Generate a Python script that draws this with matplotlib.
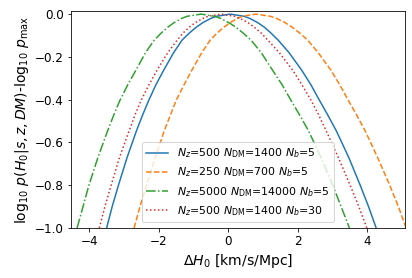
import matplotlib
matplotlib.use("Agg")
import matplotlib.pyplot as plt

# Readings of each curve: y levels (log10 p - log10 pmax) and the delta H0 where
# each curve crosses them, left branch -> peak -> right branch
levels = [-1.0, -0.9, -0.8, -0.67, -0.545, -0.47, -0.404, -0.33, -0.263, -0.18,
          -0.122, -0.09, -0.061, -0.04, -0.02, -0.01, 0.0,
          -0.01, -0.02, -0.04, -0.061, -0.09, -0.122, -0.18, -0.263, -0.33,
          -0.404, -0.47, -0.545, -0.67, -0.8, -0.9, -1.0]

x_blue = [-3.50, -3.34, -3.16, -2.91, -2.64, -2.46, -2.29, -2.08, -1.86, -1.57,
          -1.33, -1.13, -0.92, -0.73, -0.50, -0.335, 0.06,
          0.455, 0.62, 0.85, 1.04, 1.24, 1.44, 1.75, 2.12, 2.38,
          2.63, 2.86, 3.11, 3.47, 3.80, 4.04, 4.26]
x_orange = [-2.71, -2.54, -2.35, -2.10, -1.84, -1.66, -1.50, -1.27, -1.05, -0.76,
            -0.52, -0.33, -0.12, 0.05, 0.27, 0.41, 0.80,
            1.21, 1.39, 1.64, 1.84, 2.07, 2.29, 2.59, 2.96, 3.21,
            3.46, 3.69, 3.94, 4.30, 4.65, 4.90, 5.12]
x_green = [-4.35, -4.18, -4.01, -3.75, -3.47, -3.29, -3.12, -2.89, -2.66, -2.38,
           -2.13, -1.94, -1.74, -1.56, -1.34, -1.18, -0.78,
           -0.39, -0.22, 0.02, 0.22, 0.44, 0.66, 0.95, 1.28, 1.55,
           1.81, 2.05, 2.31, 2.67, 3.01, 3.25, 3.49]
x_red = [-3.71, -3.55, -3.37, -3.13, -2.85, -2.68, -2.51, -2.28, -2.05, -1.74,
         -1.47, -1.31, -1.12, -0.95, -0.73, -0.58, -0.20,
         0.18, 0.34, 0.57, 0.75, 0.96, 1.14, 1.47, 1.86, 2.12,
         2.39, 2.60, 2.82, 3.17, 3.51, 3.76, 3.99]

labels = [r'$N_z$=500 $N_{\rm DM}$=1400 $N_b$=5',
          r'$N_z$=250 $N_{\rm DM}$=700 $N_b$=5',
          r'$N_z$=5000 $N_{\rm DM}$=14000 $N_b$=5',
          r'$N_z$=500 $N_{\rm DM}$=1400 $N_b$=30']

DPI = 72
fig = plt.figure(figsize=(412 / DPI, 278 / DPI), dpi=DPI)
ax = fig.add_axes([0.172, 0.180, 0.811, 0.780])

ax.plot(x_blue, levels, color='#1f77b4', ls='-', label=labels[0])
ax.plot(x_orange, levels, color='#ff7f0e', ls='--', label=labels[1])
ax.plot(x_green, levels, color='#2ca02c', ls='-.', label=labels[2])
ax.plot(x_red, levels, color='#d62728', ls=':', label=labels[3])

ax.set_xlim(-4.53, 5.09)
ax.set_ylim(-1.0, 0.014)
ax.set_xticks([-4, -2, 0, 2, 4])
ax.set_yticks([0.0, -0.2, -0.4, -0.6, -0.8, -1.0])
ax.tick_params(labelsize=12)
ax.set_xlabel(r'$\Delta H_0$ [km/s/Mpc]', fontsize=14)
ax.set_ylabel(r'$\log_{10}\,p(H_0|s,z,DM)$-$\log_{10}\,p_{\rm max}$', fontsize=14)
ax.legend(loc='lower center', fontsize=11)

fig.savefig('out.png', dpi=DPI)
